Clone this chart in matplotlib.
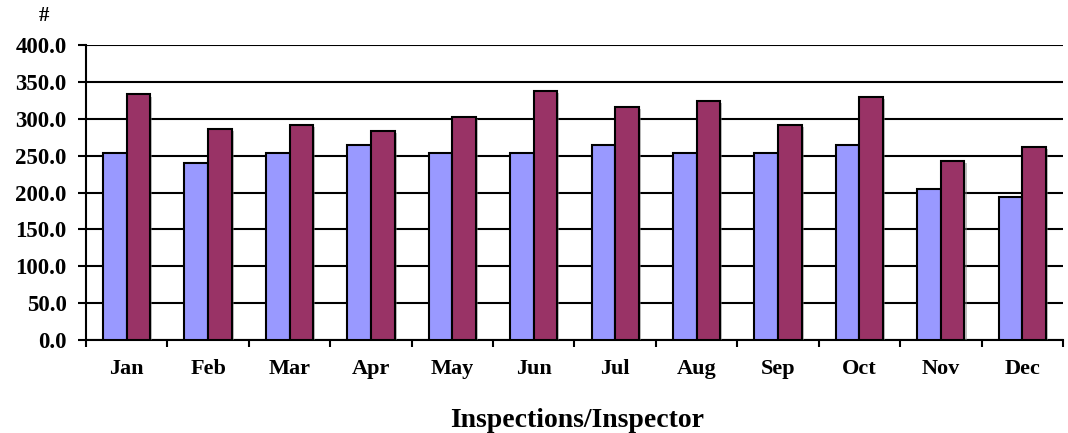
import numpy as np
import matplotlib.pyplot as plt
import matplotlib.patheffects as pe

months = ["Jan", "Feb", "Mar", "Apr", "May", "Jun",
          "Jul", "Aug", "Sep", "Oct", "Nov", "Dec"]
series_blue = [254, 240, 254, 264, 254, 254, 264, 254, 254, 264, 205, 194]
series_red = [333, 286, 292, 284, 303, 338, 316, 324, 292, 330, 243, 262]
y_ticks = [0, 50, 100, 150, 200, 250, 300, 350, 400]

plt.rcParams['font.family'] = ['Liberation Serif', 'DejaVu Serif']
plt.rcParams['font.weight'] = 'bold'

fig = plt.figure(figsize=(10.68, 4.33), dpi=100)
ax = fig.add_axes([0.0805, 0.2148, 0.9148, 0.6812])

x = np.arange(len(months))
w = 0.29
shadow = [pe.SimplePatchShadow(offset=(1.5, -1.5), shadow_rgbFace='gray', alpha=0.5),
          pe.Normal()]
ax.bar(x - w / 2, series_blue, w, color='#9999FF', edgecolor='black',
       linewidth=1.5, zorder=3, path_effects=shadow)
ax.bar(x + w / 2, series_red, w, color='#993366', edgecolor='black',
       linewidth=1.5, zorder=3, path_effects=shadow)

ax.set_xlim(-0.5, len(months) - 0.5)
ax.set_ylim(0, 400)
ax.set_yticks(y_ticks)
ax.set_yticklabels([f"{v:.1f}" for v in y_ticks], fontsize=16.5, fontweight='bold')
ax.yaxis.grid(True, color='black', linewidth=1.5, zorder=0)
ax.set_axisbelow(True)

# ticks at category boundaries, labels at centres
ax.set_xticks(np.arange(-0.5, len(months), 1.0))
ax.set_xticklabels([])
ax.set_xticks(x, minor=True)
ax.set_xticklabels(months, minor=True, fontsize=16, fontweight='bold')
ax.tick_params(axis='x', which='major', length=5, width=1.5, direction='out')
ax.tick_params(axis='x', which='minor', length=0, pad=14)
ax.tick_params(axis='y', length=6, width=1.5, direction='out', pad=8)

for s in ['top', 'right']:
    ax.spines[s].set_visible(False)
for s in ['left', 'bottom']:
    ax.spines[s].set_linewidth(1.5)

fig.text(0.041, 0.962, "#", fontsize=15, fontweight='bold', ha='center', va='center')
fig.text(0.540, 0.0139, "Inspections/Inspector", fontsize=20, fontweight='bold',
         ha='center', va='baseline')

fig.savefig("out.png", dpi=100)
